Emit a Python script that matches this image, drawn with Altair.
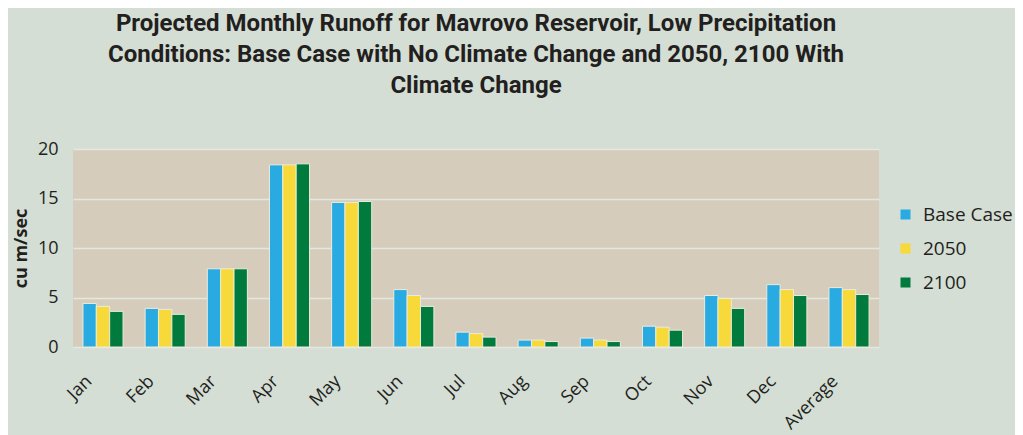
import altair as alt
import pandas as pd

months = ["Jan", "Feb", "Mar", "Apr", "May", "Jun", "Jul", "Aug", "Sep", "Oct", "Nov", "Dec", "Average"]
series = ["Base Case", "2050", "2100"]
base_case = [4.4, 3.9, 7.9, 18.4, 14.6, 5.8, 1.5, 0.7, 0.9, 2.1, 5.2, 6.3, 6.0]
y2050 = [4.1, 3.8, 7.9, 18.4, 14.6, 5.2, 1.35, 0.7, 0.7, 2.0, 4.9, 5.8, 5.8]
y2100 = [3.6, 3.3, 7.9, 18.5, 14.7, 4.1, 1.0, 0.55, 0.55, 1.7, 3.9, 5.2, 5.3]
colors = ["#29ABE2", "#F7D939", "#007A3D"]
title_lines = [
    "Projected Monthly Runoff for Mavrovo Reservoir, Low Precipitation",
    "Conditions: Base Case with No Climate Change and  2050, 2100 With",
    "Climate Change",
]

rows = []
for i, m in enumerate(months):
    for s, vals in zip(series, [base_case, y2050, y2100]):
        rows.append({"month": m, "series": s, "value": vals[i]})
df = pd.DataFrame(rows)

txt = "#231F20"
font = "Open Sans"

chart = alt.Chart(df).mark_bar(stroke="#ECEBDD", strokeWidth=1).encode(
    x=alt.X(
        "month:N", sort=months,
        scale=alt.Scale(paddingInner=0.355, paddingOuter=0.16),
        axis=alt.Axis(title=None, labelAngle=-45, labelFontSize=18, labelFont=font,
                      labelColor=txt, ticks=False, domain=False, labelPadding=25,
                      labelAlign="right", labelBaseline="top", labelOffset=-20),
    ),
    xOffset=alt.XOffset("series:N", sort=series, scale=alt.Scale(paddingInner=0, paddingOuter=0)),
    y=alt.Y(
        "value:Q", scale=alt.Scale(domain=[0, 20]),
        axis=alt.Axis(values=[0, 5, 10, 15, 20], title="cu m/sec", titleFont=font,
                      titleFontSize=18, titleFontWeight="bold", titleColor=txt,
                      labelFont=font, labelFontSize=18, labelColor=txt, ticks=False,
                      domain=False, labelPadding=15, titlePadding=7,
                      gridColor="#E4E8DF", gridWidth=1.5),
    ),
    color=alt.Color(
        "series:N", sort=series,
        scale=alt.Scale(domain=series, range=colors),
        legend=alt.Legend(title=None, orient="none", legendX=823, legendY=56,
                          symbolType="square", symbolSize=100, symbolStrokeWidth=0,
                          labelFont=font, labelFontSize=19, labelColor=txt,
                          rowPadding=14, labelOffset=8),
    ),
).properties(
    width=806, height=198,
    padding={"left": 65, "top": 141, "right": 136, "bottom": 92},
    autosize="none",
    title=alt.Title(text=title_lines, font="Roboto", fontSize=24,
                    fontWeight="bold", color=txt, lineHeight=31, anchor="middle",
                    offset=42),
).configure(background="#D4DED4").configure_view(fill="#D5CCBC", stroke=None)

chart.save("out.html", embed_options={"renderer": "svg", "actions": False})
